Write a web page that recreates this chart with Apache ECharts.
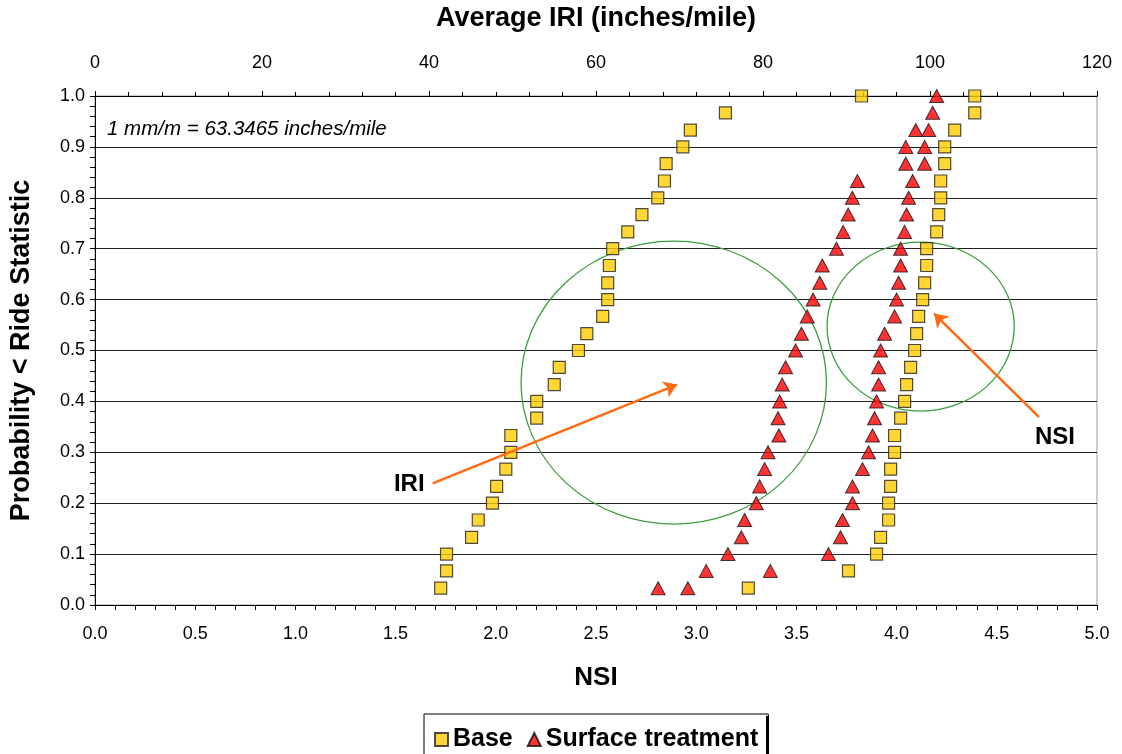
<!DOCTYPE html>
<html><head><meta charset="utf-8">
<script src="https://cdn.jsdelivr.net/npm/echarts/dist/echarts.min.js"></script>
<style>html,body{margin:0;padding:0;background:#fff}#c{width:1122px;height:754px}</style>
</head><body><div id="c"></div>
<script>
// Cumulative probability (y) for each ranked section
const probability = [0.033,0.067,0.100,0.133,0.167,0.200,0.233,0.267,0.300,0.333,0.367,0.400,0.433,0.467,0.500,0.533,0.567,0.600,0.633,0.667,0.700,0.733,0.767,0.800,0.833,0.867,0.900,0.933,0.967,1.000];
// Base: IRI (top axis, inches/mile) and NSI (bottom axis)
const baseIRI = [41.4,42.1,42.1,45.1,45.9,47.6,48.1,49.2,49.8,49.8,52.9,52.9,55.0,55.6,57.9,58.9,60.8,61.4,61.4,61.6,62.0,63.8,65.5,67.4,68.2,68.4,70.4,71.3,75.5,91.8];
const baseNSI = [3.26,3.76,3.90,3.92,3.96,3.96,3.97,3.97,3.99,3.99,4.02,4.04,4.05,4.07,4.09,4.10,4.11,4.13,4.14,4.15,4.15,4.20,4.21,4.22,4.22,4.24,4.24,4.29,4.39,4.39];
// Surface treatment
const surfIRI = [71.0,73.2,75.8,77.4,77.8,79.2,79.6,80.2,80.6,81.9,81.8,82.0,82.3,82.7,83.9,84.6,85.3,86.0,86.8,87.1,88.8,89.6,90.2,90.7,91.3,97.1,97.1,98.3];
const surfNSI = [2.81,3.37,3.66,3.72,3.73,3.78,3.78,3.83,3.86,3.88,3.89,3.90,3.91,3.91,3.92,3.94,3.99,4.00,4.01,4.02,4.02,4.04,4.05,4.06,4.08,4.14,4.14,4.16,4.18,4.20];
// Annotation anchors (NSI, probability)
const iriArrow = [[1.685,0.239],[2.905,0.433]];
const nsiArrow = [[4.711,0.369],[4.187,0.5725]];
const ellipses = [ {c:[2.888,0.437], rx:0.762, ry:0.278}, {c:[4.120,0.547], rx:0.467, ry:0.166} ];

const FONT = '"Liberation Sans", Arial, sans-serif';
const pair = (xs) => xs.map((x,i)=>[x, probability[i]]);

const chart = echarts.init(document.getElementById('c'), null, {renderer:'canvas'});
const squareStyle = {color:'#FFCC00', borderColor:'#222', borderWidth:1.2};
const triStyle = {color:'#FF0000', borderColor:'#111', borderWidth:1};

chart.setOption({
  animation:false,
  backgroundColor:'#fff',
  textStyle:{fontFamily:FONT},
  grid:{left:93, right:25, top:95, bottom:149, show:true, borderColor:'#999', borderWidth:1},
  legend:{
    data:['Base','Surface treatment'], left:424, top:714, orient:'horizontal',
    itemWidth:13, itemHeight:13, itemGap:14,
    padding:[13,10,12,10], borderColor:'#000', borderWidth:1, backgroundColor:'#fff',
    textStyle:{fontFamily:FONT, fontSize:25, fontWeight:'bold', color:'#000'}
  },
  xAxis:[
    {type:'value', position:'bottom', min:0, max:5, interval:0.5,
     name:'NSI', nameLocation:'middle', nameGap:60,
     nameTextStyle:{fontFamily:FONT, fontSize:26, fontWeight:'bold', color:'#000'},
     axisLine:{lineStyle:{color:'#000', width:1}},
     axisTick:{length:5, lineStyle:{color:'#000'}},
     minorTick:{show:true, splitNumber:5, length:5, lineStyle:{color:'#000'}},
     axisLabel:{margin:20, fontSize:18, color:'#000', fontFamily:FONT, formatter:v=>v.toFixed(1)},
     splitLine:{show:false}},
    {type:'value', position:'top', min:0, max:120, interval:20,
     name:'Average IRI (inches/mile)', nameLocation:'middle', nameGap:64,
     nameTextStyle:{fontFamily:FONT, fontSize:27, fontWeight:'bold', color:'#000'},
     axisLine:{lineStyle:{color:'#000', width:1}},
     axisTick:{length:5, lineStyle:{color:'#000'}},
     minorTick:{show:true, splitNumber:5, length:4, lineStyle:{color:'#000'}},
     axisLabel:{margin:24, fontSize:18, color:'#000', fontFamily:FONT},
     splitLine:{show:false}}
  ],
  yAxis:[{type:'value', min:0, max:1, interval:0.1,
     name:'Probability < Ride Statistic', nameLocation:'middle', nameGap:60,
     nameTextStyle:{fontFamily:FONT, fontSize:27, fontWeight:'bold', color:'#000'},
     axisLine:{show:true, lineStyle:{color:'#000'}},
     axisTick:{show:true, length:5, lineStyle:{color:'#000'}},
     minorTick:{show:true, splitNumber:5, length:5, lineStyle:{color:'#000'}},
     axisLabel:{margin:10, fontSize:18, color:'#000', fontFamily:FONT, formatter:v=>v.toFixed(1)},
     splitLine:{show:true, lineStyle:{color:'#222', width:1}}}],
  series:[
    {name:'Base', type:'scatter', xAxisIndex:1, yAxisIndex:0, symbol:'rect', symbolSize:12, itemStyle:squareStyle, data:pair(baseIRI), z:3},
    {name:'Base', type:'scatter', xAxisIndex:0, yAxisIndex:0, symbol:'rect', symbolSize:12, itemStyle:squareStyle, data:pair(baseNSI), z:3},
    {name:'Surface treatment', type:'scatter', xAxisIndex:1, yAxisIndex:0, symbol:'triangle', symbolSize:[14,13], itemStyle:triStyle, data:pair(surfIRI), z:4},
    {name:'Surface treatment', type:'scatter', xAxisIndex:0, yAxisIndex:0, symbol:'triangle', symbolSize:[14,13], itemStyle:triStyle, data:pair(surfNSI), z:4},
    {name:'arrows', type:'lines', coordinateSystem:'cartesian2d', xAxisIndex:0, yAxisIndex:0, silent:true, z:5,
     symbol:['none','arrow'], symbolSize:13,
     lineStyle:{color:'#FF6A13', width:2.5, opacity:1},
     data:[{coords:iriArrow},{coords:nsiArrow}]}
  ]
});

function px(p){ return chart.convertToPixel({xAxisIndex:0, yAxisIndex:0}, p); }
const graphics = [];
ellipses.forEach(e=>{
  const c = px(e.c);
  const r = px([e.c[0]+e.rx, e.c[1]])[0] - c[0];
  const ry = c[1] - px([e.c[0], e.c[1]+e.ry])[1];
  graphics.push({type:'circle', x:c[0], y:c[1], scaleY: ry/r, shape:{cx:0, cy:0, r:r}, z:2,
    style:{fill:'none', stroke:'#3C9E3C', lineWidth:1.3}, silent:true});
});
const t1 = px([1.568,0.237]);
const t2 = px([4.790,0.330]);
const t3 = px([0.06,0.935]);
graphics.push({type:'text', x:t1[0], y:t1[1], z:6, style:{text:'IRI', font:'bold 24px '+FONT, fill:'#000', textAlign:'center', textVerticalAlign:'middle'}});
graphics.push({type:'text', x:t2[0], y:t2[1], z:6, style:{text:'NSI', font:'bold 24px '+FONT, fill:'#000', textAlign:'center', textVerticalAlign:'middle'}});
graphics.push({type:'text', x:t3[0], y:t3[1], z:6, style:{text:'1 mm/m = 63.3465 inches/mile', font:'italic 20.5px '+FONT, fill:'#000', textAlign:'left', textVerticalAlign:'middle'}});
// heavier right edge of the legend frame (drop-shadow look of the original)
graphics.push({type:'rect', left:766, top:716, shape:{width:3, height:40}, style:{fill:'#000'}, z:20, silent:true});
chart.setOption({graphic:graphics});
</script>
</body></html>
